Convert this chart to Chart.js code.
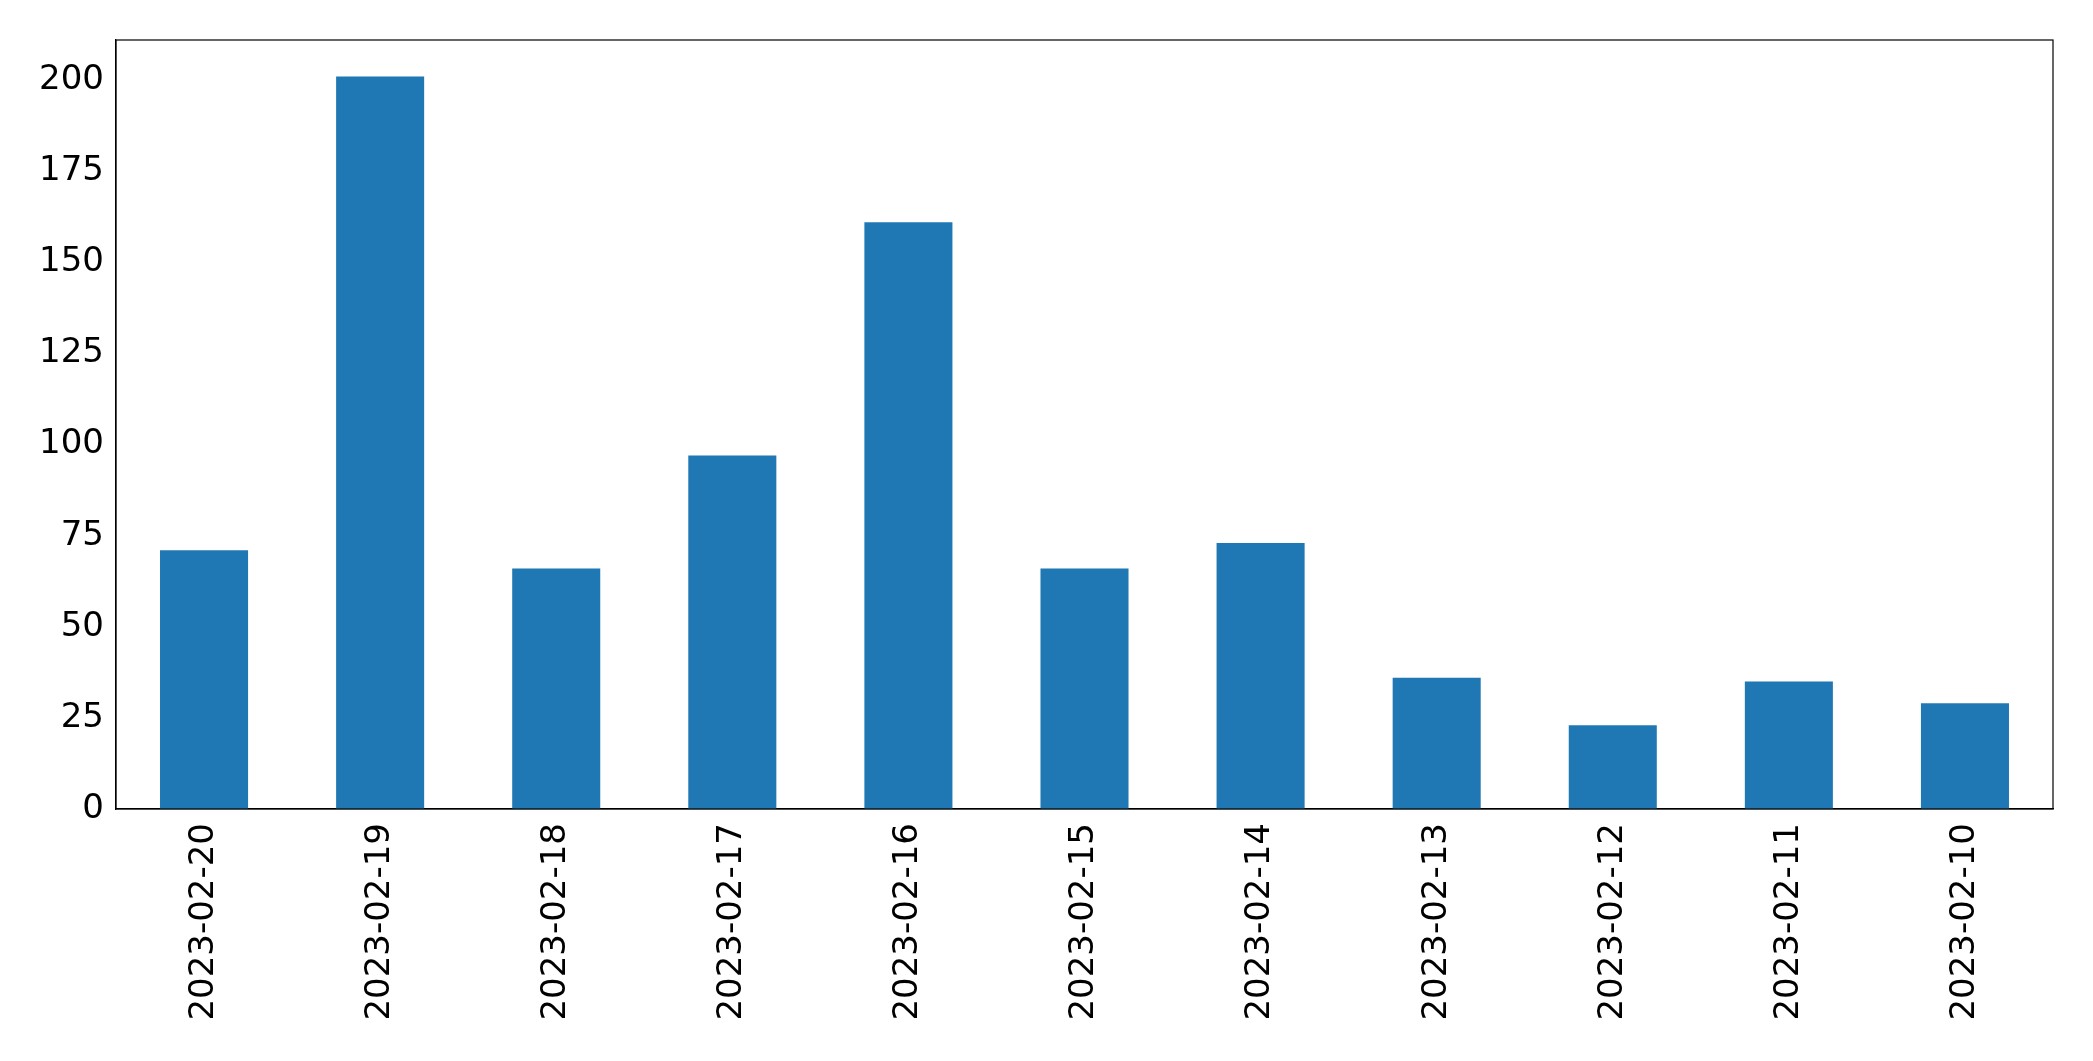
<!DOCTYPE html>
<html>
<head>
<meta charset="utf-8">
<script src="https://cdn.jsdelivr.net/npm/chart.js@4/dist/chart.umd.min.js"></script>
<style>
  html, body { margin: 0; padding: 0; background: #ffffff; }
  #chart-box { width: 2093px; height: 1061px; position: relative; }
</style>
</head>
<body>
<div id="chart-box"><canvas id="daily-chart"></canvas></div>
<script>
const dayLabels = [
  "2023-02-20", "2023-02-19", "2023-02-18", "2023-02-17", "2023-02-16", "2023-02-15",
  "2023-02-14", "2023-02-13", "2023-02-12", "2023-02-11", "2023-02-10",
];
const dayCounts = [71, 201, 66, 97, 161, 66, 73, 36, 23, 35, 29];
const yTickValues = [0, 25, 50, 75, 100, 125, 150, 175, 200];

const barColor = "#1f77b4";
const inkColor = "#000000";
const tickFont = { family: "'DejaVu Sans', sans-serif", size: 34 };

// matplotlib leaves 5% headroom above the tallest bar
const yMax = Math.max(...dayCounts) * 1.05;

// top and right spines, the axes only draw left and bottom
const frameBox = {
  id: "frameBox",
  afterDraw(chart) {
    const { ctx, chartArea } = chart;
    ctx.save();
    ctx.strokeStyle = inkColor;
    ctx.lineWidth = 1.2;
    ctx.strokeRect(chartArea.left, chartArea.top, chartArea.right - chartArea.left, chartArea.bottom - chartArea.top);
    ctx.restore();
  },
};

new Chart(document.querySelector("#daily-chart"), {
  type: "bar",
  data: {
    labels: dayLabels,
    datasets: [
      {
        data: dayCounts,
        backgroundColor: barColor,
        barPercentage: 0.5,
        categoryPercentage: 1,
      },
    ],
  },
  plugins: [frameBox],
  options: {
    responsive: true,
    maintainAspectRatio: false,
    animation: false,
    layout: { padding: { top: 40, right: 40, left: 0, bottom: 0 } },
    plugins: { legend: { display: false }, tooltip: { enabled: false } },
    scales: {
      x: {
        offset: true,
        grid: { display: false, drawTicks: true, tickLength: 5, tickColor: inkColor, tickWidth: 1.2 },
        border: { display: true, color: inkColor, width: 1.2 },
        ticks: { color: inkColor, font: tickFont, minRotation: 90, maxRotation: 90, padding: 9, autoSkip: false },
        afterFit(scale) { scale.height = 252; },
      },
      y: {
        min: 0,
        max: yMax,
        grid: { display: false, drawTicks: true, tickLength: 5, tickColor: inkColor, tickWidth: 1.2 },
        border: { display: true, color: inkColor, width: 1.2 },
        ticks: { color: inkColor, font: tickFont, padding: 7 },
        afterBuildTicks(scale) {
          scale.ticks = yTickValues.map((value) => ({ value }));
        },
        afterFit(scale) { scale.width = 116; },
      },
    },
  },
});
</script>
</body>
</html>
